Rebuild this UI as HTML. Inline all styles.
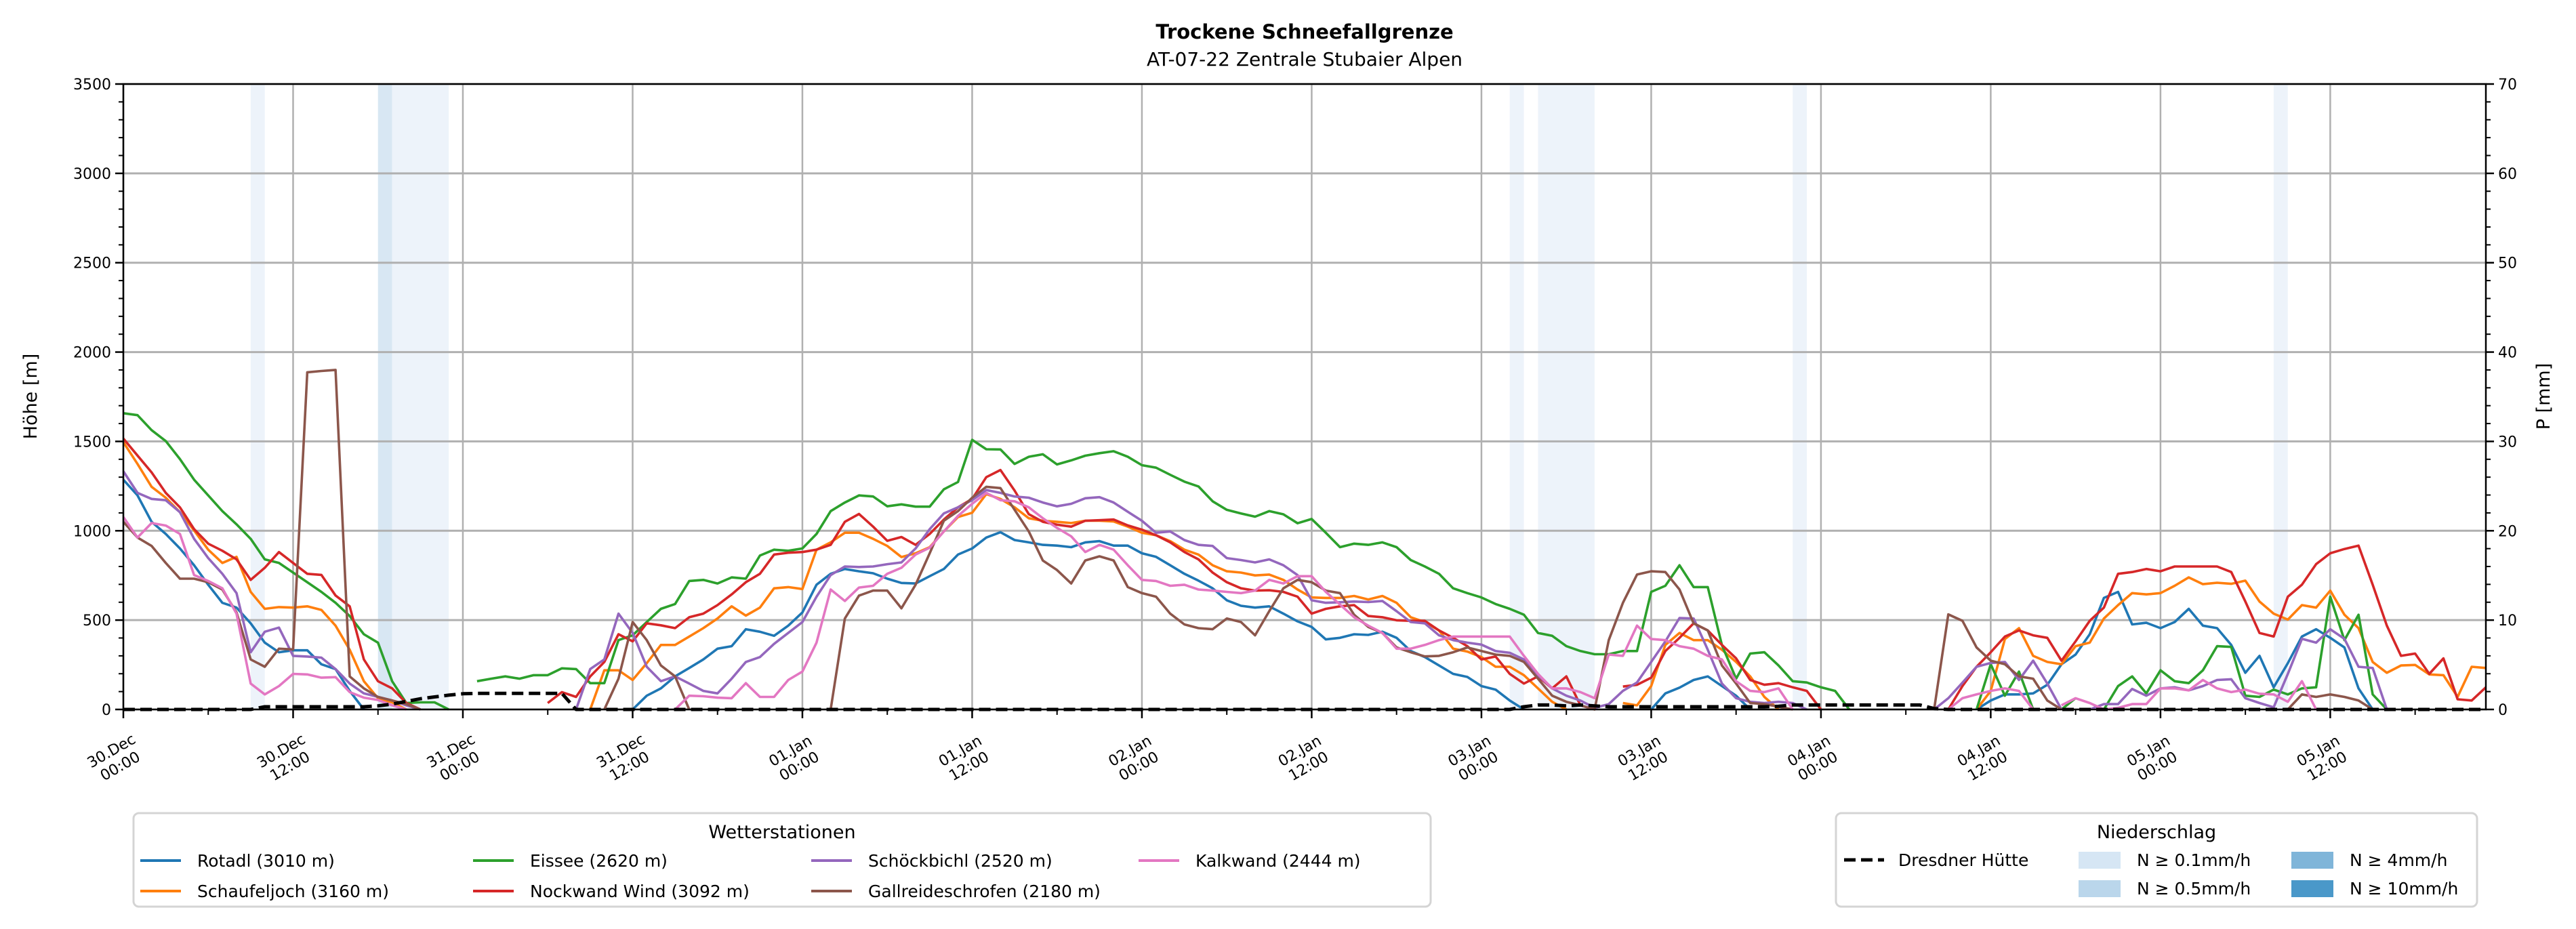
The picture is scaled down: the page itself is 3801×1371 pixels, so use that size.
<!DOCTYPE html>
<html><head><meta charset="utf-8">
<style>
html,body{margin:0;padding:0;background:#fff;}
svg{display:block;font-family:"DejaVu Sans","Liberation Sans",sans-serif;}
</style></head>
<body>
<svg id="chart" width="3801" height="1371" viewBox="0 0 3801 1371" xmlns="http://www.w3.org/2000/svg">
<rect x="0" y="0" width="3801" height="1371" fill="#fff"/>
<text x="1925" y="57" font-size="29" font-weight="bold" text-anchor="middle">Trockene Schneefallgrenze</text>
<text x="1925" y="97" font-size="28" text-anchor="middle">AT-07-22 Zentrale Stubaier Alpen</text>
<g id="spans"></g>
<g id="grid"></g>
<g id="series"></g>
<g id="axes"></g>
<text transform="translate(54,585) rotate(-90)" font-size="27" text-anchor="middle">Höhe [m]</text>
<text transform="translate(3762,585) rotate(-90)" font-size="27" text-anchor="middle">P [mm]</text>

<g>
<rect x="197" y="1200" width="1914" height="138" rx="8" fill="#fff" stroke="#d4d4d4" stroke-width="3"/>
<text x="1154" y="1237" font-size="27" text-anchor="middle">Wetterstationen</text>
<g id="stLegend"></g>
</g>
<g>
<rect x="2709" y="1200" width="946" height="138" rx="8" fill="#fff" stroke="#d4d4d4" stroke-width="3"/>
<text x="3182" y="1237" font-size="27" text-anchor="middle">Niederschlag</text>
<line x1="2721" y1="1269" x2="2780" y2="1269" stroke="#000" stroke-width="5" stroke-dasharray="17,8"/>
<text x="2801" y="1278" font-size="25">Dresdner Hütte</text>
<rect x="3067" y="1257" width="62" height="25" fill="#d6e6f4"/>
<text x="3153" y="1278" font-size="25">N ≥ 0.1mm/h</text>
<rect x="3067" y="1299" width="62" height="25" fill="#bad6eb"/>
<text x="3153" y="1320" font-size="25">N ≥ 0.5mm/h</text>
<rect x="3381" y="1257" width="62" height="25" fill="#7fb5d9"/>
<text x="3467" y="1278" font-size="25">N ≥ 4mm/h</text>
<rect x="3381" y="1299" width="62" height="25" fill="#4a98c9"/>
<text x="3467" y="1320" font-size="25">N ≥ 10mm/h</text>
</g>
</svg>
<script>
const N=null;
const hours=[];for(let i=0;i<=167;i++)hours.push(i);
const xTickLabels=[["30.Dec","00:00"],["30.Dec","12:00"],["31.Dec","00:00"],["31.Dec","12:00"],["01.Jan","00:00"],["01.Jan","12:00"],["02.Jan","00:00"],["02.Jan","12:00"],["03.Jan","00:00"],["03.Jan","12:00"],["04.Jan","00:00"],["04.Jan","12:00"],["05.Jan","00:00"],["05.Jan","12:00"]];
const yTicks=[0,500,1000,1500,2000,2500,3000,3500];
const y2Ticks=[0,10,20,30,40,50,60,70];
const stationNames=["Rotadl (3010 m)","Schaufeljoch (3160 m)","Eissee (2620 m)","Nockwand Wind (3092 m)","Schöckbichl (2520 m)","Gallreideschrofen (2180 m)","Kalkwand (2444 m)"];
const stationColors=["#1f77b4","#ff7f0e","#2ca02c","#d62728","#9467bd","#8c564b","#e377c2"];
const precipStart=[9,18,19,98,100,118,152];
const precipEnd=[10,19,23,99,104,119,153];
const precipLevel=[0,1,0,0,0,0,0];
const rotadl=[1286,1198,1050,982,901,807,698,597,570,482,374,320,
331,331,253,226,104,0,N,N,N,N,N,N,
N,N,N,N,N,N,N,N,N,N,N,N,
0,77,118,185,232,280,340,354,449,435,412,469,
543,698,759,786,773,762,732,708,705,746,786,867,
901,962,992,948,935,921,917,908,935,942,917,917,
874,854,807,759,721,678,611,580,570,577,536,493,
462,392,401,421,417,435,401,327,293,246,199,182,
131,111,50,0,N,N,N,N,N,N,N,N,
0,90,122,165,185,131,77,0,N,N,N,N,
N,N,N,N,N,N,N,N,N,N,N,0,
50,84,84,90,138,253,307,421,624,658,476,485,
455,489,563,469,455,361,205,300,124,259,408,449,
401,347,118,0,N,N,N,N,N,N,N,N];
const schaufeljoch=[1496,1374,1246,1185,1104,1002,894,820,854,658,563,573,
570,577,557,469,334,158,63,40,0,N,N,N,
N,N,N,N,N,N,N,N,N,0,219,219,
165,259,361,361,408,455,509,577,525,570,678,685,
674,894,935,989,989,955,915,853,874,908,996,1077,
1101,1205,1178,1131,1070,1056,1050,1043,1056,1056,1052,1023,
989,975,942,894,867,807,773,766,750,755,725,671,
627,624,624,635,615,635,597,516,489,442,340,324,
293,239,239,192,118,43,0,N,N,N,36,23,
131,361,428,388,388,334,266,185,70,0,N,N,
N,N,N,N,N,N,N,N,N,N,N,0,
104,394,455,300,266,253,354,374,509,584,651,644,
651,692,739,701,709,703,721,604,536,503,584,570,
665,530,455,266,205,246,249,196,192,70,239,232];
const eissee=[1658,1647,1563,1502,1401,1286,1198,1110,1036,955,840,820,
766,712,658,597,523,421,374,158,36,40,40,0,
N,158,172,185,172,192,192,230,226,147,147,388,
415,489,563,590,719,725,705,739,732,861,894,888,
901,982,1110,1158,1198,1192,1137,1148,1135,1135,1232,1273,
1509,1456,1455,1374,1414,1428,1371,1394,1420,1434,1445,1414,
1367,1353,1313,1275,1248,1165,1117,1097,1079,1110,1092,1042,
1066,989,908,928,921,935,908,836,800,759,678,651,
627,590,563,530,428,412,354,327,309,309,327,327,
658,692,807,685,685,360,172,313,320,246,158,151,
124,104,0,N,N,N,N,N,N,N,N,0,
253,77,212,0,N,0,63,N,0,131,185,90,
219,158,147,219,354,350,77,70,111,84,118,124,
631,388,530,84,0,N,N,N,N,N,N,N];
const nockwand=[1516,1421,1327,1212,1131,1009,928,888,840,725,793,881,
820,759,753,638,577,280,158,118,36,0,N,N,
N,N,N,N,N,N,36,97,70,185,266,421,
381,482,471,455,516,536,584,644,712,759,867,877,
881,894,921,1050,1094,1023,944,965,921,982,1063,1131,
1178,1300,1340,1225,1093,1050,1034,1023,1056,1059,1063,1030,
1006,975,935,881,840,766,712,678,665,667,658,631,
536,563,577,584,523,516,499,496,496,442,401,354,
280,296,199,145,185,118,185,23,N,N,128,138,
178,327,401,482,442,361,286,165,138,147,124,104,
0,N,N,N,N,N,N,N,N,0,131,239,
320,408,442,415,401,273,381,496,570,759,769,786,
773,800,800,800,800,769,604,428,408,631,698,813,
874,898,917,698,469,300,313,199,286,57,50,124];
const schoeckbichl=[1333,1212,1178,1171,1104,955,847,759,651,320,435,458,
300,296,290,226,145,90,70,50,23,0,N,N,
N,N,N,N,N,N,N,N,0,226,280,536,
428,239,158,185,145,104,90,172,266,293,367,428,
489,631,752,800,797,800,813,823,901,1009,1097,1131,
1171,1228,1212,1192,1185,1158,1137,1151,1182,1188,1158,1106,
1056,989,996,948,921,915,847,836,823,840,807,752,
611,597,600,604,601,607,550,489,482,415,388,374,
363,327,317,280,192,118,77,50,9,30,104,151,
266,381,512,509,334,145,63,43,36,43,36,0,
N,N,N,N,N,N,N,N,0,63,150,239,
260,266,165,273,145,0,N,0,30,30,115,77,
118,124,107,131,165,169,63,36,12,199,395,374,
449,395,239,232,0,N,N,N,N,N,N,N];
const gallreide=[1050,962,915,820,732,732,712,671,543,280,239,340,
336,1887,1894,1900,185,118,70,50,30,0,N,N,
N,N,N,N,N,N,N,N,N,N,0,172,
489,388,246,185,0,N,N,N,N,N,N,N,
N,N,0,509,637,665,665,566,698,874,1056,1110,
1185,1246,1239,1117,996,833,780,705,834,857,834,685,
651,631,536,476,455,449,509,489,415,550,678,725,
712,665,651,530,462,428,347,320,297,300,320,347,
327,307,300,266,172,77,43,23,0,388,597,755,
773,769,671,482,442,246,145,36,30,16,0,N,
N,N,N,N,N,N,N,N,0,532,496,347,
273,253,185,172,50,0,N,N,N,N,N,N,
N,N,N,N,N,N,N,N,N,0,84,70,
84,70,50,0,N,N,N,N,N,N,N,N];
const kalkwand=[1077,962,1043,1029,982,752,719,678,536,145,84,131,
199,196,178,181,97,66,53,23,0,N,N,N,
N,N,N,N,N,N,N,N,N,N,N,N,
N,N,N,0,77,74,66,63,147,70,70,165,
212,374,671,607,682,692,759,793,867,905,996,1083,
1151,1212,1171,1165,1131,1070,1016,969,881,921,894,807,
725,719,692,698,671,665,658,651,665,725,705,746,
746,658,587,516,469,428,340,340,361,388,408,408,
408,408,408,300,199,118,118,97,63,307,300,469,
394,388,354,340,300,280,158,104,97,118,0,N,
N,N,N,N,N,N,N,N,N,0,63,84,
104,118,104,0,N,23,63,36,0,9,30,30,
118,118,107,165,118,97,111,88,84,43,158,0,
N,N,N,N,N,N,N,N,N,N,N,N];
const dresdner=[0,0,0,0,0,0,0,0,0,0,15,15,
15,15,15,15,15,15,20,30,45,60,70,80,
88,90,90,90,90,90,90,90,0,0,0,0,
0,0,0,0,0,0,0,0,0,0,0,0,
0,0,0,0,0,0,0,0,0,0,0,0,
0,0,0,0,0,0,0,0,0,0,0,0,
0,0,0,0,0,0,0,0,0,0,0,0,
0,0,0,0,0,0,0,0,0,0,0,0,
0,0,0,15,25,25,20,25,20,15,15,15,
15,15,15,15,15,15,15,15,15,18,25,25,
25,25,25,25,25,25,25,25,5,0,0,0,
0,0,0,0,0,0,0,0,0,0,0,0,
0,0,0,0,0,0,0,0,0,0,0,0,
0,0,0,0,0,0,0,0,0,0,0,0];
const stationSeries=[rotadl,schaufeljoch,eissee,nockwand,schoeckbichl,gallreide,kalkwand];

const NS="http://www.w3.org/2000/svg";
const L=182,R=3668,T=124,B=1047,XMAX=167,YMAX=3500,PMAX=70;
function xS(h){return L+h*(R-L)/XMAX;}
function yS(v){return B-v*(B-T)/YMAX;}
function y2S(p){return B-p*(B-T)/PMAX;}
function mk(tag,attrs,parent){const e=document.createElementNS(NS,tag);for(const k in attrs)e.setAttribute(k,attrs[k]);parent.appendChild(e);return e;}

const spans=document.getElementById('spans');
const spanColors=["#edf3fa","#d8e7f3"];
precipStart.forEach((s,i)=>{
  const r=mk('rect',{x:xS(s),y:T,width:xS(precipEnd[i])-xS(s),height:B-T,fill:spanColors[precipLevel[i]]},spans);
  
  
});

const grid=document.getElementById('grid');
yTicks.forEach(v=>{
  const g=mk('line',{x1:L,x2:R,y1:yS(v),y2:yS(v),stroke:'#b0b0b0','stroke-width':3},grid);
  
  
});
xTickLabels.forEach((lab,i)=>{
  const g=mk('line',{x1:xS(i*12),x2:xS(i*12),y1:T,y2:B,stroke:'#b0b0b0','stroke-width':2.5},grid);
  
  
});

const ser=document.getElementById('series');
function drawLine(vals,color,dash,width,name){
  let d='',pen=false;
  vals.forEach((v,i)=>{
    if(v===null){pen=false;return;}
    d+=(pen?'L':'M')+xS(hours[i]).toFixed(1)+','+yS(v).toFixed(1);pen=true;
  });
  const p=mk('path',{d:d,fill:'none',stroke:color,'stroke-width':width,'stroke-linejoin':'round'},ser);
  if(dash)p.setAttribute('stroke-dasharray',dash);
  
  
}
const seriesNames=['rotadl-line','schaufeljoch-line','eissee-line','nockwand-line','schoeckbichl-line','gallreide-line','kalkwand-line'];
stationSeries.forEach((s,i)=>drawLine(s,stationColors[i],null,3.6,seriesNames[i]));
drawLine(dresdner,'#000','17,8',5,'dresdner-line');

const ax=document.getElementById('axes');
const fr=mk('rect',{x:L,y:T,width:R-L,height:B-T,fill:'none',stroke:'#000','stroke-width':2.5},ax);


yTicks.forEach(v=>{
  const t=mk('line',{x1:L-12,x2:L,y1:yS(v),y2:yS(v),stroke:'#000','stroke-width':2.5},ax);
  
  
  const tx=mk('text',{x:L-18,y:yS(v)+8,'font-size':22,'text-anchor':'end'},ax);
  tx.textContent=v;
  
  
});
for(let v=100;v<3500;v+=100){if(v%500===0)continue;
  const t=mk('line',{x1:L-7,x2:L,y1:yS(v),y2:yS(v),stroke:'#000','stroke-width':2},ax);
  
  
  const t2=mk('line',{x1:R,x2:R+7,y1:yS(v),y2:yS(v),stroke:'#000','stroke-width':2},ax);
  
  
}
y2Ticks.forEach(p=>{
  const t=mk('line',{x1:R,x2:R+12,y1:y2S(p),y2:y2S(p),stroke:'#000','stroke-width':2.5},ax);
  
  
  const tx=mk('text',{x:R+18,y:y2S(p)+8,'font-size':22,'text-anchor':'start'},ax);
  tx.textContent=p;
  
  
});
for(let h=6;h<XMAX;h+=12){
  const t=mk('line',{x1:xS(h),x2:xS(h),y1:B,y2:B+8,stroke:'#000','stroke-width':2},ax);
  
  
}
xTickLabels.forEach((lab,i)=>{
  const x=xS(i*12);
  const t=mk('line',{x1:x,x2:x,y1:B,y2:B+13,stroke:'#000','stroke-width':2.5},ax);
  
  
  const g=mk('g',{transform:'translate('+(x-12)+',1118) rotate(-30)'},ax);
  
  
  const a=mk('text',{x:0,y:-4,'font-size':22,'text-anchor':'middle'},g);a.textContent=lab[0];
  const b=mk('text',{x:0,y:22,'font-size':22,'text-anchor':'middle'},g);b.textContent=lab[1];
});

const lg=document.getElementById('stLegend');
const colX=[207,698,1197,1680];
const rowY=[1270,1315];
stationNames.forEach((n,i)=>{
  const c=Math.floor(i/2),r=i%2;
  const ln=mk('line',{x1:colX[c],x2:colX[c]+60,y1:rowY[r],y2:rowY[r],stroke:stationColors[i],'stroke-width':4},lg);
  
  
  const tx=mk('text',{x:colX[c]+84,y:rowY[r]+9,'font-size':25},lg);
  tx.textContent=n;
  
  
});
</script>
</body></html>
